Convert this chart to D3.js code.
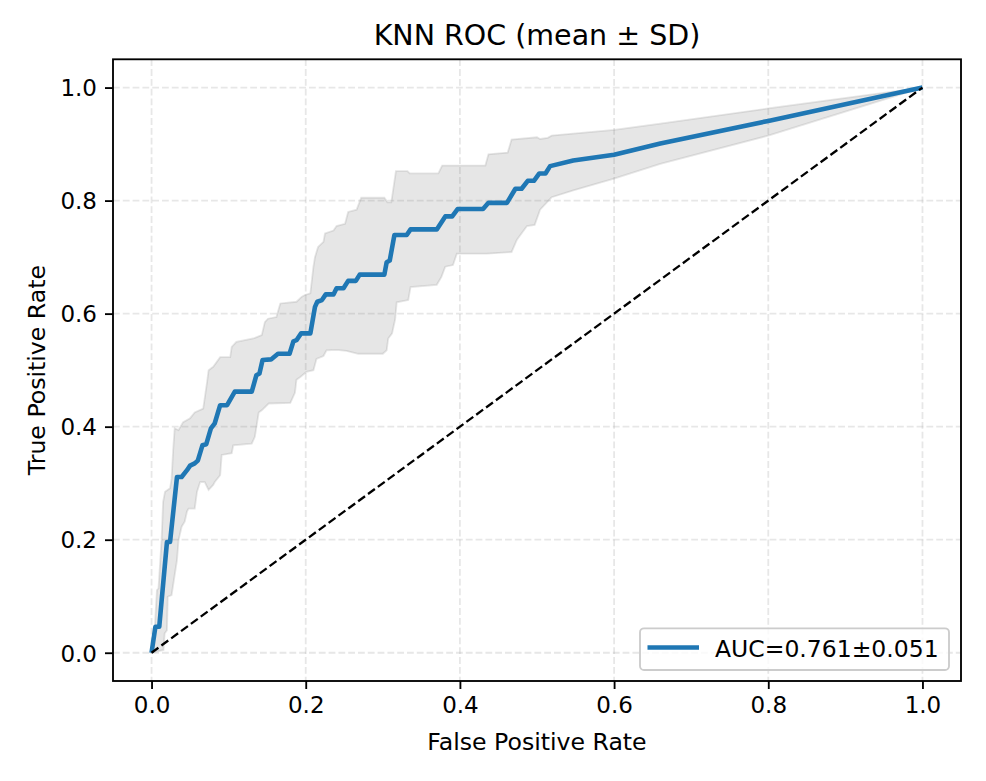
<!DOCTYPE html>
<html>
<head>
<meta charset="utf-8">
<script src="https://cdn.jsdelivr.net/npm/d3@7"></script>
<style>
  body { margin: 0; background: #fff; }
  text { font-family: "DejaVu Sans", sans-serif; fill: #000; }
</style>
</head>
<body>
<div id="chart"></div>
<script>
// mean ROC curve
var meanFpr = [0,0.005,0.01,0.02,0.024,0.033,0.039,0.046,0.05,0.056,0.06,0.066,0.071,0.077,0.082,0.089,0.098,0.108,0.13,0.136,0.14,0.144,0.155,0.164,0.179,0.184,0.188,0.194,0.206,0.212,0.215,0.221,0.226,0.236,0.24,0.249,0.255,0.265,0.27,0.302,0.305,0.309,0.315,0.331,0.336,0.37,0.381,0.39,0.397,0.43,0.437,0.461,0.472,0.48,0.488,0.496,0.503,0.511,0.517,0.547,0.6,0.66,0.8,1];
var meanTpr = [0,0.046,0.046,0.196,0.196,0.311,0.311,0.323,0.331,0.335,0.34,0.367,0.369,0.397,0.406,0.438,0.438,0.462,0.462,0.491,0.494,0.518,0.519,0.529,0.529,0.551,0.553,0.565,0.565,0.612,0.621,0.624,0.634,0.634,0.645,0.645,0.658,0.658,0.669,0.669,0.691,0.694,0.739,0.739,0.749,0.749,0.772,0.772,0.785,0.785,0.796,0.796,0.821,0.821,0.835,0.835,0.848,0.848,0.861,0.871,0.881,0.901,0.941,1];

// mean + SD
var upperFpr = [0,0.0045,0.007,0.009,0.013,0.015,0.0175,0.024,0.026,0.028,0.03,0.035,0.041,0.05,0.056,0.067,0.072,0.074,0.08,0.089,0.102,0.104,0.11,0.132,0.143,0.147,0.151,0.162,0.167,0.188,0.195,0.199,0.206,0.21,0.212,0.216,0.223,0.225,0.236,0.24,0.251,0.255,0.266,0.272,0.302,0.306,0.311,0.317,0.332,0.335,0.372,0.377,0.433,0.437,0.462,0.467,0.5,0.504,0.514,0.519,0.6,0.66,0.8,1];
var upperTpr = [0,0.052,0.111,0.114,0.199,0.267,0.285,0.291,0.308,0.358,0.397,0.394,0.408,0.415,0.425,0.432,0.479,0.5,0.506,0.523,0.523,0.541,0.55,0.556,0.562,0.585,0.591,0.594,0.618,0.621,0.63,0.633,0.636,0.683,0.7,0.718,0.727,0.742,0.747,0.755,0.759,0.78,0.784,0.805,0.805,0.797,0.797,0.852,0.852,0.848,0.848,0.862,0.862,0.882,0.885,0.908,0.912,0.909,0.911,0.915,0.925,0.936,0.963,1];

// mean - SD
var lowerFpr = [0,0.0155,0.017,0.02,0.021,0.026,0.033,0.035,0.039,0.043,0.046,0.048,0.056,0.059,0.063,0.069,0.074,0.08,0.082,0.089,0.091,0.104,0.106,0.13,0.134,0.139,0.143,0.152,0.18,0.186,0.188,0.193,0.201,0.21,0.214,0.223,0.227,0.24,0.253,0.268,0.3,0.305,0.307,0.312,0.316,0.318,0.333,0.336,0.37,0.376,0.381,0.391,0.396,0.435,0.467,0.474,0.487,0.497,0.504,0.515,0.519,0.547,0.6,0.66,0.8,1];
var lowerTpr = [0,0.005,0.034,0.04,0.099,0.102,0.164,0.199,0.223,0.232,0.25,0.255,0.255,0.285,0.302,0.302,0.288,0.297,0.302,0.314,0.35,0.353,0.367,0.37,0.382,0.425,0.429,0.441,0.442,0.46,0.483,0.488,0.497,0.5,0.52,0.525,0.535,0.536,0.534,0.529,0.529,0.535,0.556,0.565,0.59,0.62,0.624,0.647,0.651,0.665,0.683,0.686,0.706,0.706,0.709,0.731,0.755,0.757,0.784,0.8,0.806,0.818,0.839,0.865,0.915,1];

// chance line
var chanceX = [0, 1];
var chanceY = [0, 1];

var ticks = [0, 0.2, 0.4, 0.6, 0.8, 1.0];
var legendLabel = "AUC=0.761\u00b10.051";
var titleText = "KNN ROC (mean \u00b1 SD)";

// Set up chart
var svgWidth = 986;
var svgHeight = 781;
var margin = {top: 59.3, right: 25, bottom: 100, left: 113};
var width = 961 - margin.left;
var height = 681 - margin.top;

var svg = d3.select("#chart")
  .append("svg")
  .attr("width", svgWidth)
  .attr("height", svgHeight);

var chartGroup = svg.append("g")
  .attr("transform", "translate(" + margin.left + "," + margin.top + ")");

var xScale = d3.scaleLinear().domain([-0.05, 1.05]).range([0, width]);
var yScale = d3.scaleLinear().domain([-0.05, 1.05]).range([height, 0]);

// grid
chartGroup.append("g").selectAll("line")
  .data(ticks).enter().append("line")
  .attr("x1", d => xScale(d)).attr("x2", d => xScale(d))
  .attr("y1", 0).attr("y2", height)
  .attr("stroke", "#b0b0b0").attr("stroke-opacity", 0.3)
  .attr("stroke-width", 1.8).attr("stroke-dasharray", "6.8,3");
chartGroup.append("g").selectAll("line")
  .data(ticks).enter().append("line")
  .attr("y1", d => yScale(d)).attr("y2", d => yScale(d))
  .attr("x1", 0).attr("x2", width)
  .attr("stroke", "#b0b0b0").attr("stroke-opacity", 0.3)
  .attr("stroke-width", 1.8).attr("stroke-dasharray", "6.8,3");

// SD band: upper edge forward, lower edge back
var bandPts = upperFpr.map((f, i) => [f, upperTpr[i]]);
var lowPts = lowerFpr.map((f, i) => [f, lowerTpr[i]]).reverse();
var line = d3.line().x(d => xScale(d[0])).y(d => yScale(d[1]));

chartGroup.append("path")
  .attr("d", line(bandPts.concat(lowPts)) + "Z")
  .attr("fill", "grey")
  .attr("fill-opacity", 0.2)
  .attr("stroke", "grey")
  .attr("stroke-opacity", 0.2)
  .attr("stroke-width", 1.8);

// mean curve
chartGroup.append("path")
  .attr("d", line(meanFpr.map((f, i) => [f, meanTpr[i]])))
  .attr("fill", "none")
  .attr("stroke", "#1f77b4")
  .attr("stroke-width", 4.6)
  .attr("stroke-linejoin", "round")
  .attr("stroke-linecap", "butt");

// chance diagonal
chartGroup.append("path")
  .attr("d", line(chanceX.map((x, i) => [x, chanceY[i]])))
  .attr("fill", "none")
  .attr("stroke", "#000")
  .attr("stroke-width", 2.3)
  .attr("stroke-dasharray", "8.5,3.7");

// axes
var bottomAxis = d3.axisBottom(xScale).tickValues(ticks).tickFormat(d3.format(".1f")).tickSizeOuter(0).tickSize(8).tickPadding(8);
var leftAxis = d3.axisLeft(yScale).tickValues(ticks).tickFormat(d3.format(".1f")).tickSizeOuter(0).tickSize(8).tickPadding(8);

var xAxis = chartGroup.append("g")
  .attr("transform", "translate(0," + height + ")")
  .call(bottomAxis);
var yAxis = chartGroup.append("g").call(leftAxis);

[xAxis, yAxis].forEach(function(ax) {
  ax.select(".domain").remove();
  ax.selectAll(".tick line").attr("stroke", "#000").attr("stroke-width", 1.85);
  ax.selectAll(".tick text").style("font-family", "DejaVu Sans").style("font-size", "23px").attr("fill", "#000");
});
xAxis.selectAll(".tick text").attr("dy", "0.71em");
yAxis.selectAll(".tick text").attr("dy", "0.36em");

// frame
chartGroup.append("rect")
  .attr("x", 0).attr("y", 0)
  .attr("width", width).attr("height", height)
  .attr("fill", "none").attr("stroke", "#000").attr("stroke-width", 1.85);

// labels
svg.append("text")
  .attr("x", margin.left + width / 2).attr("y", 45)
  .attr("text-anchor", "middle")
  .style("font-size", "28.5px")
  .text(titleText);

svg.append("text")
  .attr("x", margin.left + width / 2).attr("y", 750)
  .attr("text-anchor", "middle")
  .style("font-size", "23.6px")
  .text("False Positive Rate");

svg.append("text")
  .attr("transform", "translate(45," + (margin.top + height / 2) + ") rotate(-90)")
  .attr("text-anchor", "middle")
  .style("font-size", "23.6px")
  .text("True Positive Rate");

// legend
var legend = svg.append("g");
legend.append("rect")
  .attr("x", 640).attr("y", 628.3)
  .attr("width", 309).attr("height", 41.7)
  .attr("rx", 4).attr("ry", 4)
  .attr("fill", "#fff").attr("fill-opacity", 0.8)
  .attr("stroke", "#cccccc").attr("stroke-width", 1.85);
legend.append("line")
  .attr("x1", 647.5).attr("x2", 699)
  .attr("y1", 647.5).attr("y2", 647.5)
  .attr("stroke", "#1f77b4").attr("stroke-width", 4.6);
legend.append("text")
  .attr("x", 715).attr("y", 656.5)
  .style("font-size", "23.5px")
  .text(legendLabel);
</script>
</body>
</html>
